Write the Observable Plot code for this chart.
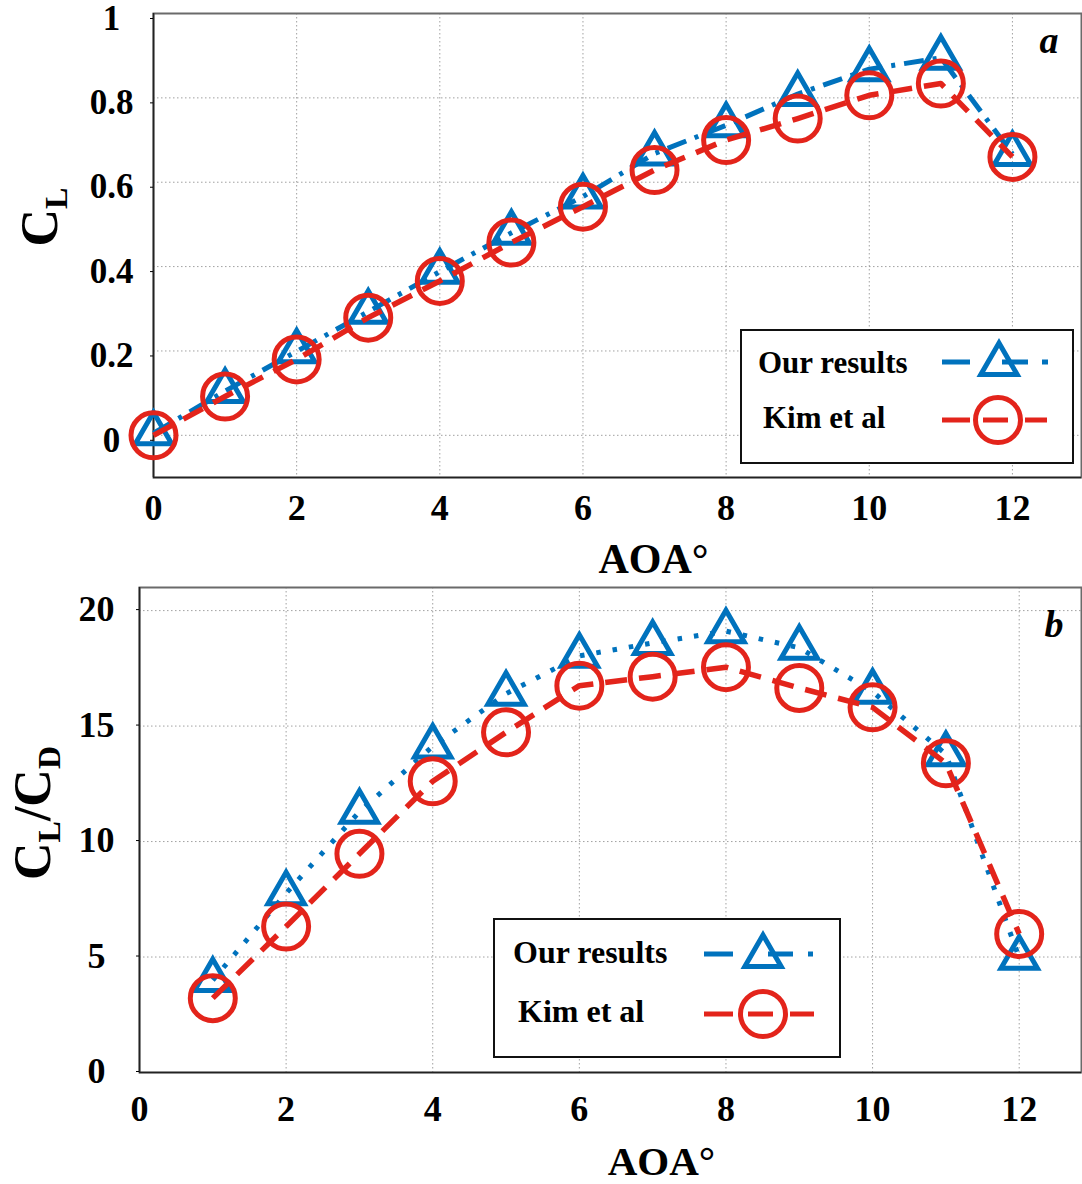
<!DOCTYPE html>
<html><head><meta charset="utf-8">
<script src="https://cdn.jsdelivr.net/npm/d3@7"></script>
<script src="https://cdn.jsdelivr.net/npm/@observablehq/plot@0.6"></script>
<style>
body{margin:0;background:#fff;}
#wrap{position:relative;width:1082px;height:1184px;overflow:hidden;background:#fff;}
#wrap > svg{display:block;}
.legend{position:absolute;}
</style></head><body><div id="wrap"></div>
<script>
// ---------- data ----------
const seriesNames = ["Our results", "Kim et al"];
const aoaA = [0, 1, 2, 3, 4, 5, 6, 7, 8, 9, 10, 11, 12];
const oursCL = [0.005, 0.105, 0.199, 0.293, 0.388, 0.480, 0.566, 0.668, 0.735, 0.809, 0.868, 0.895, 0.667];
const kimCL  = [0.000, 0.092, 0.180, 0.279, 0.366, 0.457, 0.542, 0.629, 0.700, 0.751, 0.806, 0.834, 0.660];
const aoaB = [1, 2, 3, 4, 5, 6, 7, 8, 9, 10, 11, 12];
const oursLD = [4.0, 7.76, 11.29, 14.12, 16.4, 18.04, 18.6, 19.11, 18.39, 16.49, 13.78, 4.97];
const kimLD  = [3.22, 6.32, 9.47, 12.61, 14.73, 16.75, 17.14, 17.55, 16.65, 15.81, 13.39, 6.0];
const xTicks = [0, 2, 4, 6, 8, 10, 12];
const yTicksA = [0, 0.2, 0.4, 0.6, 0.8, 1];
const yTicksB = [0, 5, 10, 15, 20];
const panelLetters = ["a", "b"];
const xLabel = "AOA°";

// ---------- style ----------
const BLUE = "#0072bd", RED = "#e3241b";
const FONT = '"Liberation Serif","Times New Roman",serif';

function panel(o) {
  const dOurs = o.xs.map((x, i) => ({x, y: o.ours[i]}));
  const dKim = o.xs.map((x, i) => ({x, y: o.kim[i]}));
  return Plot.plot({
    width: 1082, height: o.height,
    marginTop: o.mt, marginBottom: o.mb, marginLeft: o.ml, marginRight: 1,
    x: {domain: o.xDomain, label: null}, y: {domain: o.yDomain, label: null},
    style: {fontFamily: FONT, fontWeight: "bold", fontSize: "36px", color: "#000", background: "#fff", overflow: "visible"},
    marks: [
      Plot.gridX(xTicks, {stroke: "#8a8a8a", strokeOpacity: 0.8, strokeWidth: 1, strokeDasharray: "1.5,2.5"}),
      Plot.gridY(o.yTicks, {stroke: "#8a8a8a", strokeOpacity: 0.8, strokeWidth: 1, strokeDasharray: "1.5,2.5"}),
      Plot.frame({stroke: "#6a6a6a", strokeWidth: 2}),
      Plot.ruleX([o.xDomain[0]], {stroke: "#222", strokeWidth: 1.6}),
      Plot.ruleY([o.yDomain[0]], {stroke: "#222", strokeWidth: 1.6}),
      Plot.axisX(xTicks, {label: null, tickSize: 0, tickPadding: o.xPad, fontSize: 36, fontWeight: "bold"}),
      Plot.axisY(o.yTicks, {label: null, tickSize: 3, tickPadding: o.yPad, textAnchor: "middle", dy: o.yDy, fontSize: o.yFs, fontWeight: "bold", tickFormat: d => String(d)}),
      Plot.line(dOurs, {x: "x", y: "y", stroke: BLUE, strokeWidth: 5, strokeDasharray: o.blueDash, strokeLinecap: "butt"}),
      Plot.dot(dOurs, {x: "x", y: "y", symbol: "triangle", r: 13.5, stroke: BLUE, strokeWidth: 5, fill: "none"}),
      Plot.line(dKim, {x: "x", y: "y", stroke: RED, strokeWidth: 5.5, strokeDasharray: "22,12", strokeLinecap: "butt"}),
      Plot.dot(dKim, {x: "x", y: "y", symbol: "circle", r: 22.5, stroke: RED, strokeWidth: 5, fill: "none"}),
      Plot.text([o.letter], {frameAnchor: "top-right", textAnchor: "end", lineAnchor: "middle", dx: o.letterDx, dy: o.letterDy, fontSize: 38, fontStyle: "italic", fontWeight: "bold"}),
      Plot.text([xLabel], {frameAnchor: "bottom", textAnchor: "middle", lineAnchor: "middle", dx: o.xlDx, dy: o.xlDy, fontSize: o.xlSize, fontWeight: "bold"})
    ]
  });
}

const wrap = document.getElementById("wrap");

const svgA = panel({xs: aoaA, ours: oursCL, kim: kimCL, yDomain: [-0.1, 1], xDomain: [0, 12.965], yTicks: yTicksA,
  height: 580, mt: 13, mb: 103, ml: 153, blueDash: "20,9,4,9", letter: panelLetters[0], letterDx: -23, letterDy: 27,
  xPad: 17, yPad: 39, yDy: 5, yFs: 35, xlDx: 36, xlDy: 82, xlSize: 42});
const svgB = panel({xs: aoaB, ours: oursLD, kim: kimLD, yDomain: [0, 21], xDomain: [0, 12.85], yTicks: yTicksB,
  height: 604, mt: 7, mb: 112, ml: 139, blueDash: "4.5,12", letter: panelLetters[1], letterDx: -18, letterDy: 37,
  xPad: 23, yPad: 40, yDy: -1, yFs: 36, xlDx: 51, xlDy: 89, xlSize: 41});
wrap.appendChild(svgA);
wrap.appendChild(svgB);

// y-axis labels with subscripts (coordinates local to each SVG)
function yLabel(svg, x, y, parts) {
  const t = d3.select(svg).append("text")
    .attr("transform", `translate(${x},${y}) rotate(-90)`)
    .attr("text-anchor", "middle")
    .attr("font-family", FONT).attr("font-weight", "bold").attr("font-size", 52).attr("fill", "#000");
  let shifted = false;
  for (const [s, sub] of parts) {
    const ts = t.append("tspan").text(s);
    if (sub && !shifted) { ts.attr("font-size", 32).attr("dy", 10); shifted = true; }
    else if (!sub && shifted) { ts.attr("dy", -10); shifted = false; }
  }
}
yLabel(svgA, 57, 217, [["C", false], ["L", true]]);
yLabel(svgB, 50, 233, [["C", false], ["L", true], ["/C", false], ["D", true]]);

// legends
function legend(left, top, w, h, fs, rows) {
  const svg = d3.select(wrap).append("svg").attr("class", "legend")
    .style("left", left + "px").style("top", top + "px")
    .attr("width", w).attr("height", h);
  svg.append("rect").attr("x", 1).attr("y", 1).attr("width", w - 2).attr("height", h - 2)
    .attr("fill", "#fff").attr("stroke", "#111").attr("stroke-width", 2);
  rows.forEach(r => {
    svg.append("text").attr("x", r.tx).attr("y", r.ty).text(r.name)
      .attr("font-family", FONT).attr("font-weight", "bold").attr("font-size", fs).attr("fill", "#000");
    svg.append("line").attr("x1", r.x1).attr("x2", r.x2).attr("y1", r.ly).attr("y2", r.ly)
      .attr("stroke", r.color).attr("stroke-width", 5).attr("stroke-dasharray", r.dash);
    const size = r.symbol === "triangle" ? Math.PI * 13.5 * 13.5 : Math.PI * 22.5 * 22.5;
    svg.append("path").attr("d", d3.symbol(r.symbol === "triangle" ? d3.symbolTriangle : d3.symbolCircle, size)())
      .attr("transform", `translate(${r.mx},${r.my})`)
      .attr("fill", "none").attr("stroke", r.color).attr("stroke-width", 5);
  });
}
legend(740, 329, 334, 135, 31, [
  {name: seriesNames[0], tx: 18, ty: 44, x1: 202, x2: 308, ly: 33, color: BLUE, dash: "28,32,26,14,6,100", symbol: "triangle", mx: 259, my: 35},
  {name: seriesNames[1], tx: 23, ty: 99, x1: 202, x2: 308, ly: 91, color: RED, dash: "28,13,25,17,22,100", symbol: "circle", mx: 258, my: 91}
]);
legend(493, 918, 348, 140, 32, [
  {name: seriesNames[0], tx: 20, ty: 45, x1: 211, x2: 321, ly: 36, color: BLUE, dash: "29,35,25,15,5,100", symbol: "triangle", mx: 270, my: 38},
  {name: seriesNames[1], tx: 25, ty: 104, x1: 211, x2: 321, ly: 96, color: RED, dash: "29,15,25,17,24,100", symbol: "circle", mx: 270, my: 96}
]);
</script></body></html>
